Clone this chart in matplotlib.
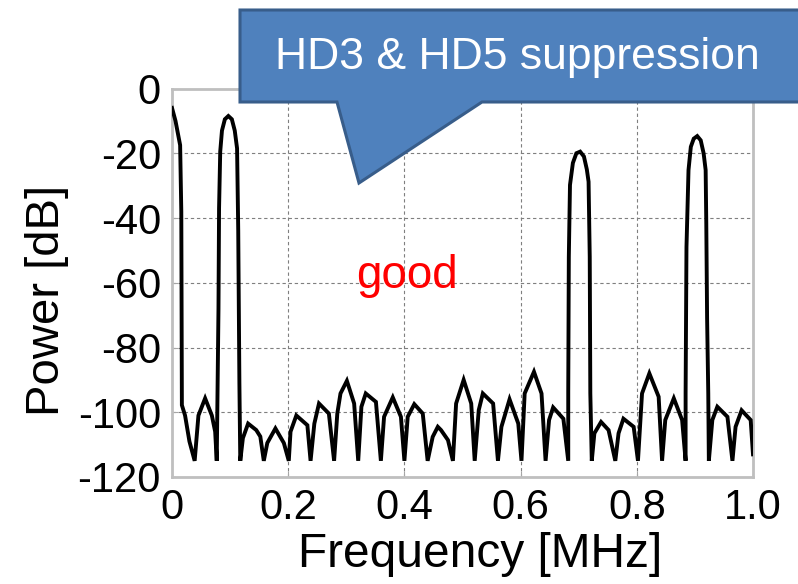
import matplotlib
matplotlib.use("Agg")
import matplotlib.pyplot as plt
from matplotlib.patches import Polygon

plt.rcParams['font.family'] = ['Liberation Sans', 'DejaVu Sans']
plt.rcParams['axes.unicode_minus'] = False

# spectrum trace (MHz, dB)
freq = [0.000, 0.006, 0.014, 0.016, 0.017, 0.0225, 0.030, 0.039,
        0.0455, 0.057, 0.0686, 0.0743, 0.077,
        0.078, 0.080, 0.081, 0.083, 0.086, 0.091, 0.097, 0.103, 0.108, 0.112,
        0.114, 0.116, 0.1175,
        0.122, 0.131, 0.145, 0.152, 0.158,
        0.164, 0.178, 0.1925, 0.201,
        0.204, 0.214, 0.233, 0.2385,
        0.245, 0.253, 0.270, 0.279,
        0.2845, 0.290, 0.301, 0.3135, 0.3205,
        0.326, 0.3335, 0.351, 0.3595,
        0.365, 0.380, 0.394, 0.400,
        0.4057, 0.417, 0.4316, 0.440,
        0.4487, 0.4575, 0.463, 0.475, 0.4835,
        0.489, 0.502, 0.515, 0.521,
        0.528, 0.535, 0.5527, 0.561,
        0.567, 0.581, 0.596, 0.6015,
        0.607, 0.623, 0.636, 0.643,
        0.649, 0.656, 0.6736, 0.682,
        0.682, 0.683, 0.685, 0.690, 0.696, 0.7025, 0.709, 0.714, 0.717, 0.719,
        0.720, 0.7225,
        0.727, 0.7385, 0.7514, 0.763,
        0.7686, 0.777, 0.7946, 0.802,
        0.809, 0.8216, 0.8376, 0.8435,
        0.849, 0.8637, 0.878, 0.884,
        0.884, 0.8855, 0.889, 0.893, 0.898, 0.904, 0.910, 0.915, 0.9185,
        0.9196, 0.921, 0.923, 0.924,
        0.930, 0.9386, 0.956, 0.9646,
        0.970, 0.9804, 0.996, 1.000]
power = [-6, -10, -17.5, -38, -97.8, -101, -109, -115,
         -101, -95.7, -101, -106, -115,
         -99, -68, -37, -19.5, -13, -9.5, -8.5, -9.5, -13, -18.5,
         -44, -91, -115,
         -108, -103.5, -105.5, -107.5, -115,
         -109.5, -105, -109.5, -115,
         -106, -101, -104, -115,
         -103.5, -97.3, -100.4, -115,
         -100.4, -94.2, -90.3, -97.3, -115,
         -98.3, -94.2, -96.8, -115,
         -101.4, -95.4, -101.4, -115,
         -101.4, -97.5, -100.4, -115,
         -107.6, -104.5, -105.5, -108.6, -115,
         -97.3, -90, -97.3, -115,
         -99.3, -94.2, -97.3, -115,
         -104.5, -96, -103.5, -115,
         -94.2, -87.5, -94.2, -115,
         -102.4, -98.5, -102, -115,
         -93.7, -52, -29.8, -23, -20, -19.5, -21, -25, -28.8, -52,
         -94.2, -115,
         -106.5, -103, -105.5, -115,
         -106.5, -102, -104.5, -115,
         -94.2, -88, -95.2, -115,
         -102.4, -95.7, -102.4, -115,
         -94.2, -49, -25.2, -18, -15.5, -14.7, -16, -20, -25.2,
         -41.7, -71, -94.2, -115,
         -102.4, -98.3, -101.4, -115,
         -104.5, -99.4, -102.4, -113]

xticks = [0, 0.2, 0.4, 0.6, 0.8, 1.0]
xlabels = ['0', '0.2', '0.4', '0.6', '0.8', '1.0']
yticks = [0, -20, -40, -60, -80, -100, -120]

W, H = 798, 584
fig = plt.figure(figsize=(W / 100, H / 100), dpi=100)
ax = fig.add_axes([172 / W, 1 - 477 / H, 581 / W, 388.5 / H])

ax.plot(freq, power, color='black', lw=2.8, solid_joinstyle='miter', zorder=3)

ax.set_xlim(0, 1.0)
ax.set_ylim(-120, 0)
ax.set_xticks(xticks)
ax.set_xticklabels(xlabels)
ax.set_yticks(yticks)
ax.set_yticklabels([str(v) for v in yticks])
ax.tick_params(direction='in', length=4, color='#a6a6a6', labelsize=30, pad=8)

ax.grid(True, color='#7f7f7f', linestyle=(0, (3, 2.5)), lw=0.8)
for s in ax.spines.values():
    s.set_color('#bfbfbf')
    s.set_linewidth(2)

ax.set_xlabel('Frequency [MHz]', fontsize=34.5, labelpad=3)
ax.set_ylabel('Power [dB]', fontsize=34, labelpad=6)
ax.xaxis.label.set_x(0.53)
ax.yaxis.label.set_y(0.455)

ax.text(0.405, -58, 'good', color='red', fontsize=33, ha='center', va='center')

# callout box with pointer (pixel outline -> figure fraction)
pts = [(240, 10), (820, 10), (820, 102), (482, 102), (359, 183), (337, 102), (240, 102)]
poly = Polygon([(x / W, 1 - y / H) for x, y in pts], closed=True,
               transform=fig.transFigure, facecolor='#4f81bd',
               edgecolor='#385d8a', lw=2.2, joinstyle='miter', zorder=10)
fig.add_artist(poly)
fig.text(517 / W, 1 - 57 / H, 'HD3 & HD5 suppression', color='white',
         fontsize=32, ha='center', va='center', zorder=11)

fig.savefig('out.png', dpi=100)
